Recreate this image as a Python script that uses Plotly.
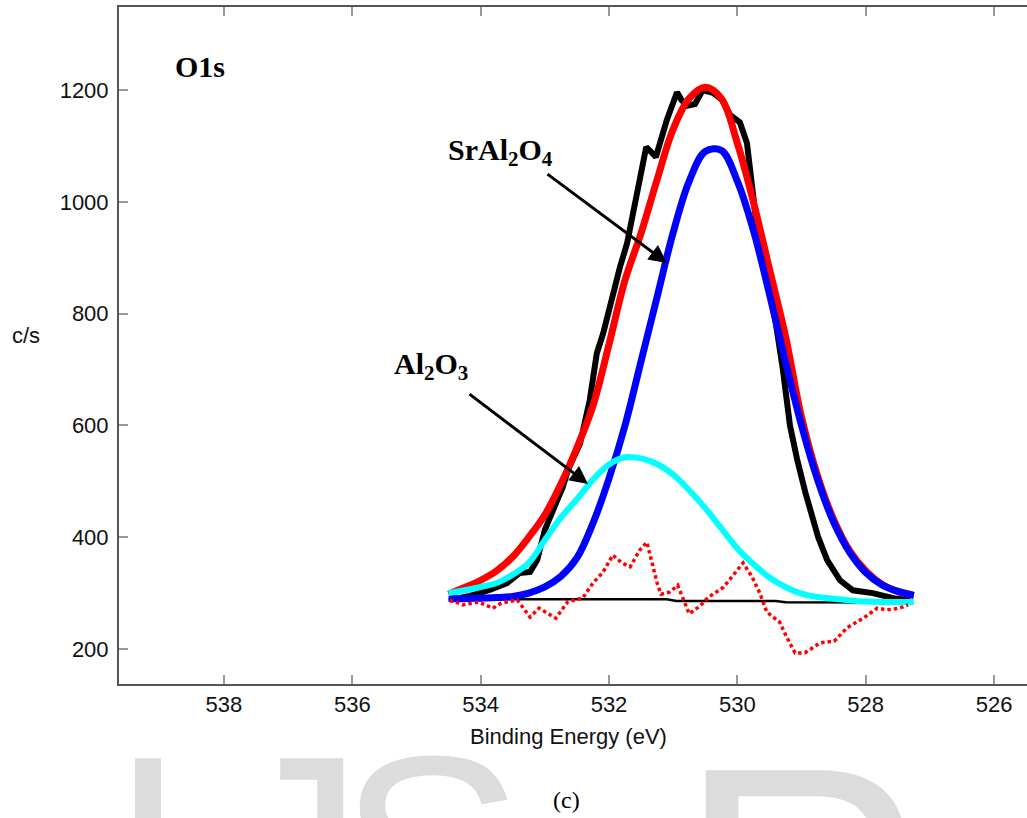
import plotly.graph_objects as go

# ---------------- data ----------------
BE_FIT = [534.5, 534.25, 534.0, 533.75, 533.5, 533.25, 533.0, 532.75, 532.5, 532.25,
          532.0, 531.75, 531.5, 531.25, 531.0, 530.75, 530.5, 530.25, 530.0, 529.75,
          529.5, 529.25, 529.0, 528.75, 528.5, 528.25, 528.0, 527.75, 527.5, 527.25]

ENVELOPE_RED = [298, 310, 323, 340, 365, 400, 440, 495, 560, 635,
                745, 860, 944, 1040, 1130, 1185, 1205, 1185, 1105, 1000,
                880, 760, 615, 510, 432, 376, 340, 316, 303, 296]

SRAL2O4_BLUE = [290, 290, 291, 292, 294, 300, 311, 330, 363, 425,
                505, 600, 715, 830, 945, 1037, 1090, 1092, 1037, 949,
                835, 714, 600, 503, 427, 373, 337, 315, 303, 296]

AL2O3_CYAN = [300, 305, 311, 318, 333, 354, 395, 435, 468, 503,
              530, 543, 541, 531, 512, 484, 452, 416, 380, 352,
              328, 311, 299, 293, 290, 287, 285, 284, 284, 284]

BE_EXP = [534.48, 534.17, 533.85, 533.59, 533.39, 533.23, 533.12, 533.00, 532.87, 532.72,
          532.64, 532.45, 532.30, 532.19, 532.09, 531.98, 531.94, 531.83, 531.72, 531.60,
          531.52, 531.42, 531.35, 531.27, 531.10, 530.94, 530.87, 530.78, 530.66, 530.54,
          530.38, 530.24, 530.11, 529.96, 529.85, 529.77, 529.69, 529.55, 529.41, 529.29,
          529.18, 529.07, 528.94, 528.74, 528.60, 528.40, 528.20, 527.89, 527.57, 527.31]
COUNTS_EXP = [288, 295, 306, 318, 336, 338, 359, 413, 449, 490,
              520, 568, 645, 729, 765, 815, 837, 883, 925, 990,
              1039, 1098, 1090, 1080, 1146, 1196, 1182, 1172, 1175, 1200,
              1195, 1183, 1155, 1142, 1105, 1026, 950, 870, 790, 700,
              600, 540, 480, 400, 359, 323, 305, 300, 291, 287]

BE_BASE = [534.5, 531.1, 530.95, 529.4, 529.25, 527.3]
COUNTS_BASE = [289, 289, 286, 286, 283.5, 283]

BE_RES = [534.48, 534.28, 534.03, 533.81, 533.68, 533.43, 533.23, 533.09, 532.83, 532.64,
          532.41, 532.25, 532.09, 531.94, 531.80, 531.67, 531.52, 531.41, 531.25, 531.19,
          531.05, 530.93, 530.75, 530.58, 530.46, 530.22, 529.91, 529.77, 529.65, 529.54,
          529.34, 529.23, 529.10, 528.95, 528.71, 528.49, 528.29, 528.04, 527.82, 527.67,
          527.47, 527.34]
COUNTS_RES = [288, 279, 284, 273, 282, 288, 257, 273, 255, 285,
              291, 318, 338, 368, 354, 347, 377, 391, 318, 298,
              302, 314, 263, 277, 292, 310, 354, 329, 300, 266,
              248, 221, 193, 193, 211, 214, 238, 255, 273, 270,
              273, 279]

X_TICKS = [538, 536, 534, 532, 530, 528, 526]
Y_TICKS = [200, 400, 600, 800, 1000, 1200]

# ---------------- layout geometry (pixels) ----------------
W, H = 1027, 818
L, R, T, B = 119, 1027, 7, 684
X_RANGE = [539.636, 525.486]
Y_RANGE = [137.4, 1348.5]


def px(xp):
    return (xp - L) / (R - L)


def py(yp):
    return (B - yp) / (B - T)


fig = go.Figure()

fig.add_trace(go.Scatter(x=BE_EXP, y=COUNTS_EXP, mode="lines",
                         line=dict(color="#000000", width=6)))
fig.add_trace(go.Scatter(x=BE_BASE, y=COUNTS_BASE, mode="lines",
                         line=dict(color="#000000", width=2.5)))
fig.add_trace(go.Scatter(x=BE_FIT, y=ENVELOPE_RED, mode="lines", line_shape="spline",
                         line=dict(color="#ff0000", width=7)))
fig.add_trace(go.Scatter(x=BE_FIT, y=SRAL2O4_BLUE, mode="lines", line_shape="spline",
                         line=dict(color="#0000ff", width=7)))
fig.add_trace(go.Scatter(x=BE_FIT, y=AL2O3_CYAN, mode="lines", line_shape="spline",
                         line=dict(color="#00ffff", width=6)))
fig.add_trace(go.Scatter(x=BE_RES, y=COUNTS_RES, mode="lines",
                         line=dict(color="#ff0000", width=3.5, dash="3.5px,3px")))

axis_font = dict(family="Liberation Sans, Arial, sans-serif", size=22, color="#111111")

fig.update_xaxes(range=X_RANGE, tickvals=X_TICKS, ticks="inside", ticklen=9,
                 tickwidth=1.5, tickcolor="#9a9a9a", showline=True, linewidth=2,
                 linecolor="#555555", mirror="ticks", showgrid=False, zeroline=False,
                 tickfont=axis_font, ticklabelstandoff=0)
fig.update_yaxes(range=Y_RANGE, tickvals=Y_TICKS, ticks="inside", ticklen=9,
                 tickwidth=1.5, tickcolor="#9a9a9a", showline=True, linewidth=2,
                 linecolor="#555555", mirror=False, showgrid=False, zeroline=False,
                 tickfont=axis_font, ticklabelstandoff=4)

serif_b = dict(family="Liberation Serif, Times New Roman, serif", size=30, color="#000000")
ann = []
# watermark letters
wm_font = dict(family="Liberation Sans, Arial, sans-serif", size=280, color="#dcdcdc")
for ch, cx in [("I", 148), ("J", 294), ("S", 431), ("E", 610)]:
    ann.append(dict(text=ch, x=px(cx), y=py(696), xref="paper", yref="paper",
                    xanchor="center", yanchor="top", showarrow=False, font=wm_font))
ann.append(dict(text="R", x=px(803), y=py(692), xref="paper", yref="paper",
                xanchor="center", yanchor="top", showarrow=False,
                font=dict(family="Liberation Sans, Arial, sans-serif", size=350, color="#dcdcdc")))
# white caption box and caption
ann.append(dict(text=" ", x=px(608), y=py(798), xref="paper", yref="paper",
                xanchor="center", yanchor="middle", showarrow=False, width=170, height=90,
                bgcolor="#ffffff"))
ann.append(dict(text="(c)", x=px(566), y=py(800), xref="paper", yref="paper",
                xanchor="center", yanchor="middle", showarrow=False,
                font=dict(family="Liberation Serif, Times New Roman, serif", size=24, color="#000")))
# axis titles
ann.append(dict(text="Binding Energy (eV)", x=px(568), y=py(736), xref="paper", yref="paper",
                xanchor="center", yanchor="middle", showarrow=False, font=axis_font))
ann.append(dict(text="c/s", x=px(26), y=py(335), xref="paper", yref="paper",
                xanchor="center", yanchor="middle", showarrow=False, font=axis_font))
# labels
ann.append(dict(text="<b>O1s</b>", x=px(200), y=py(67), xref="paper", yref="paper",
                xanchor="center", yanchor="middle", showarrow=False, font=serif_b))
ann.append(dict(text="<b>SrAl<sub>2</sub>O<sub>4</sub></b>", x=px(500), y=py(152),
                xref="paper", yref="paper", xanchor="center", yanchor="middle",
                showarrow=False, font=serif_b))
ann.append(dict(text="<b>Al<sub>2</sub>O<sub>3</sub></b>", x=px(431), y=py(366),
                xref="paper", yref="paper", xanchor="center", yanchor="middle",
                showarrow=False, font=serif_b))
# arrows
ann.append(dict(text="", x=px(667), y=py(263), xref="paper", yref="paper",
                ax=-121, ay=-90, showarrow=True, arrowhead=2, arrowsize=1.2,
                arrowwidth=3, arrowcolor="#000000", standoff=0, startstandoff=0))
ann.append(dict(text="", x=px(588), y=py(484), xref="paper", yref="paper",
                ax=-120, ay=-91, showarrow=True, arrowhead=2, arrowsize=1.2,
                arrowwidth=3, arrowcolor="#000000", standoff=0, startstandoff=0))

fig.update_layout(width=W, height=H, margin=dict(l=L, r=W - R, t=T, b=H - B),
                  paper_bgcolor="#ffffff", plot_bgcolor="#ffffff", showlegend=False,
                  annotations=ann)

fig.write_html("out.html")
